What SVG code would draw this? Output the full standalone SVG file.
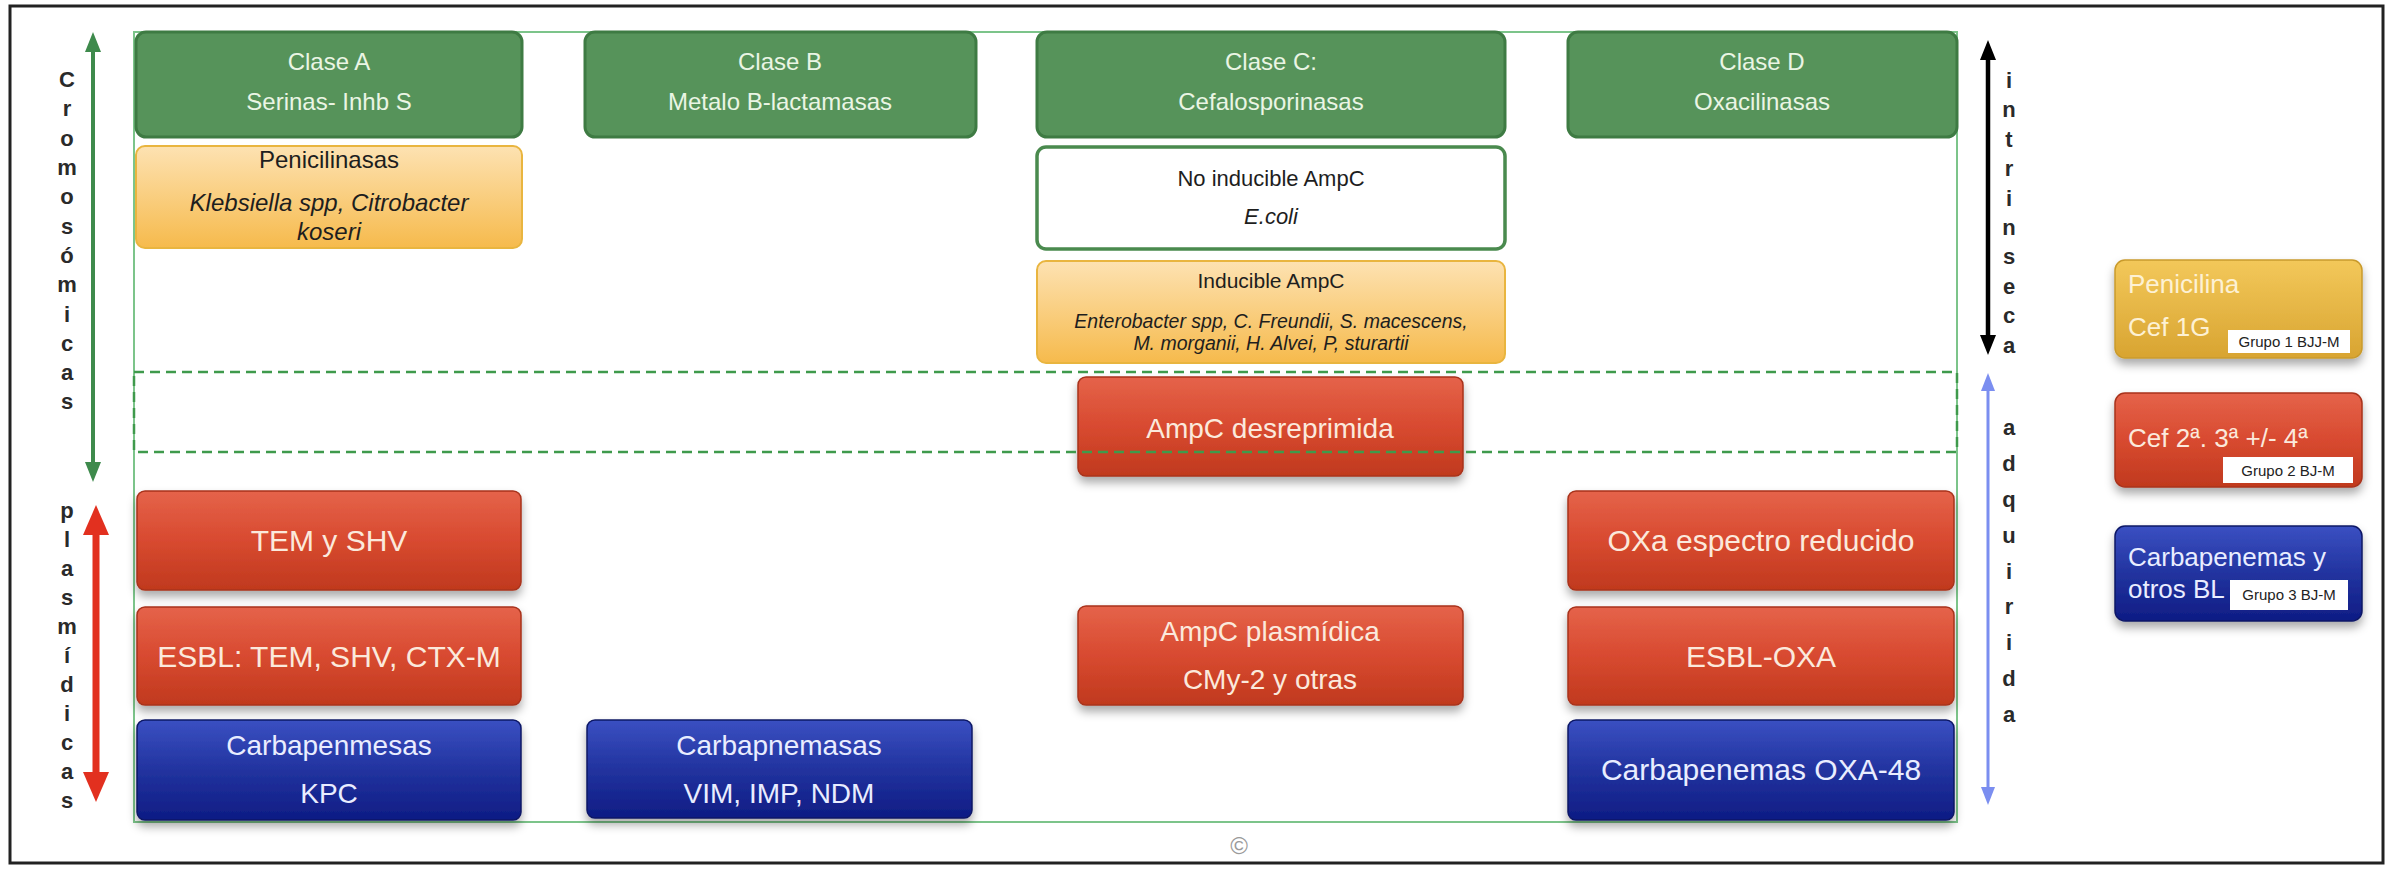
<svg xmlns="http://www.w3.org/2000/svg" width="2392" height="871" viewBox="0 0 2392 871">
<style>
text{font-family:"Liberation Sans",Arial,sans-serif;text-anchor:middle}
.gbox{fill:#56935a;stroke:#3e7b43;stroke-width:3}
.gt{fill:#eaf5e4;font-size:24px}
.obox{fill:url(#gOrange);stroke:#e9b53f;stroke-width:2}
.wbox{fill:#ffffff;stroke:#4a8a4e;stroke-width:3.5}
.dk{fill:#1e1e1e}
.it{font-style:italic}
.rbox{fill:url(#gRed);stroke:#a8331b;stroke-width:1.5;filter:url(#sh)}
.bbox{fill:url(#gBlue);stroke:#0c1766;stroke-width:1.5;filter:url(#sh)}
.ybox{fill:url(#gGold);stroke:#c99a2c;stroke-width:1.5;filter:url(#sh)}
.rt{fill:#fbe9dc;font-size:28px}
.bt{fill:#e9edff;font-size:28px}
.big{font-size:30px}
.lt{font-size:26px;text-anchor:start}
.tag{fill:#ffffff}
.tagt{fill:#222;font-size:15px;font-family:"Liberation Sans",Arial,sans-serif}
.vl{font-size:22px;font-weight:bold;fill:#2a2a2a}
</style>
<defs>
<linearGradient id="gRed" x1="0" y1="0" x2="0" y2="1"><stop offset="0" stop-color="#e5634a"/><stop offset="0.5" stop-color="#d84a30"/><stop offset="1" stop-color="#c0391e"/></linearGradient>
<linearGradient id="gBlue" x1="0" y1="0" x2="0" y2="1"><stop offset="0" stop-color="#3a50c2"/><stop offset="0.5" stop-color="#22339f"/><stop offset="1" stop-color="#0e1c84"/></linearGradient>
<linearGradient id="gOrange" x1="0" y1="0" x2="0" y2="1"><stop offset="0" stop-color="#fde2b2"/><stop offset="1" stop-color="#f6ba4c"/></linearGradient>
<linearGradient id="gGold" x1="0" y1="0" x2="0" y2="1"><stop offset="0" stop-color="#f3c85a"/><stop offset="1" stop-color="#d8a431"/></linearGradient>
<filter id="sh" x="-10%" y="-20%" width="120%" height="150%"><feDropShadow dx="0" dy="6" stdDeviation="5" flood-color="#000" flood-opacity="0.33"/></filter>
<marker id="ahG" markerUnits="userSpaceOnUse" viewBox="0 0 20 16" markerWidth="20" markerHeight="16" refX="9" refY="8" orient="auto-start-reverse"><path d="M0,0 L20,8 L0,16 z" fill="#3e8a4c"/></marker>
<marker id="ahR" markerUnits="userSpaceOnUse" viewBox="0 0 30 26" markerWidth="30" markerHeight="26" refX="12" refY="13" orient="auto-start-reverse"><path d="M0,0 L30,13 L0,26 z" fill="#e2301f"/></marker>
<marker id="ahK" markerUnits="userSpaceOnUse" viewBox="0 0 20 16" markerWidth="20" markerHeight="16" refX="9" refY="8" orient="auto-start-reverse"><path d="M0,0 L20,8 L0,16 z" fill="#000"/></marker>
<marker id="ahB" markerUnits="userSpaceOnUse" viewBox="0 0 18 14" markerWidth="18" markerHeight="14" refX="8" refY="7" orient="auto-start-reverse"><path d="M0,0 L18,7 L0,14 z" fill="#7b8ef0"/></marker>
</defs>

<rect x="10" y="6" width="2373" height="857" fill="#ffffff" stroke="#222" stroke-width="3"/>

<g id="frame">
<rect x="134" y="32" width="1823" height="790" fill="none" stroke="#7cc48a" stroke-width="2"/>
</g>

<g id="clase-a"><rect class="gbox" x="136" y="32" width="386" height="105" rx="10"/>
<text class="gt" x="329" y="70">Clase A</text><text class="gt" x="329" y="110">Serinas- Inhb S</text></g>
<g id="clase-b"><rect class="gbox" x="585" y="32" width="391" height="105" rx="10"/>
<text class="gt" x="780" y="70">Clase B</text><text class="gt" x="780" y="110">Metalo B-lactamasas</text></g>
<g id="clase-c"><rect class="gbox" x="1037" y="32" width="468" height="105" rx="10"/>
<text class="gt" x="1271" y="70">Clase C:</text><text class="gt" x="1271" y="110">Cefalosporinasas</text></g>
<g id="clase-d"><rect class="gbox" x="1568" y="32" width="389" height="105" rx="10"/>
<text class="gt" x="1762" y="70">Clase D</text><text class="gt" x="1762" y="110">Oxacilinasas</text></g>

<g id="penicilinasas"><rect class="obox" x="136" y="146" width="386" height="102" rx="9"/>
<text class="dk" x="329" y="168" font-size="24">Penicilinasas</text>
<text class="dk it" x="329" y="211" font-size="24">Klebsiella spp, Citrobacter</text>
<text class="dk it" x="329" y="240" font-size="24">koseri</text></g>

<g id="no-inducible"><rect class="wbox" x="1037" y="147" width="468" height="102" rx="9"/>
<text class="dk" x="1271" y="186" font-size="22">No inducible AmpC</text>
<text class="dk it" x="1271" y="224" font-size="22">E.coli</text></g>

<g id="inducible"><rect class="obox" x="1037" y="261" width="468" height="102" rx="9"/>
<text class="dk" x="1271" y="288" font-size="21">Inducible AmpC</text>
<text class="dk it" x="1271" y="328" font-size="19.5">Enterobacter spp, C. Freundii, S. macescens,</text>
<text class="dk it" x="1271" y="350" font-size="19.5">M. morganii, H. Alvei, P, sturartii</text></g>

<g id="ampc-desreprimida"><rect class="rbox" x="1078" y="377" width="385" height="99" rx="8"/>
<text class="rt" x="1270" y="438" font-size="33">AmpC desreprimida</text></g>

<g id="dashed-band">
<rect x="134" y="372" width="1823" height="80" fill="none" stroke="#3f9a4c" stroke-width="2.5" stroke-dasharray="10 6"/>
</g>

<g id="tem-shv"><rect class="rbox" x="137" y="491" width="384" height="99" rx="8"/>
<text class="rt big" x="329" y="551">TEM y SHV</text></g>
<g id="esbl"><rect class="rbox" x="137" y="607" width="384" height="98" rx="8"/>
<text class="rt big" x="329" y="667">ESBL: TEM, SHV, CTX-M</text></g>
<g id="kpc"><rect class="bbox" x="137" y="720" width="384" height="100" rx="8"/>
<text class="bt" x="329" y="755">Carbapenmesas</text><text class="bt" x="329" y="803">KPC</text></g>

<g id="vim"><rect class="bbox" x="587" y="720" width="385" height="98" rx="8"/>
<text class="bt" x="779" y="755">Carbapnemasas</text><text class="bt" x="779" y="803">VIM, IMP, NDM</text></g>

<g id="ampc-plasmidica"><rect class="rbox" x="1078" y="606" width="385" height="99" rx="8"/>
<text class="rt" x="1270" y="641">AmpC plasmídica</text><text class="rt" x="1270" y="689">CMy-2 y otras</text></g>

<g id="oxa-reducido"><rect class="rbox" x="1568" y="491" width="386" height="99" rx="8"/>
<text class="rt big" x="1761" y="551">OXa espectro reducido</text></g>
<g id="esbl-oxa"><rect class="rbox" x="1568" y="607" width="386" height="98" rx="8"/>
<text class="rt big" x="1761" y="667">ESBL-OXA</text></g>
<g id="oxa-48"><rect class="bbox" x="1568" y="720" width="386" height="100" rx="8"/>
<text class="bt big" x="1761" y="780">Carbapenemas OXA-48</text></g>

<g id="connectors">
<line x1="93" y1="43" x2="93" y2="471" stroke="#3e8a4c" stroke-width="4" marker-start="url(#ahG)" marker-end="url(#ahG)"/>
<line x1="96" y1="523" x2="96" y2="784" stroke="#e2301f" stroke-width="7" marker-start="url(#ahR)" marker-end="url(#ahR)"/>
<line x1="1988" y1="51" x2="1988" y2="344" stroke="#000" stroke-width="4.5" marker-start="url(#ahK)" marker-end="url(#ahK)"/>
<line x1="1988" y1="383" x2="1988" y2="795" stroke="#7b8ef0" stroke-width="3" marker-start="url(#ahB)" marker-end="url(#ahB)"/>
</g>

<g id="label-cromosomicas"><text class="vl">
<tspan x="67" y="87">C</tspan><tspan x="67" y="116">r</tspan><tspan x="67" y="146">o</tspan><tspan x="67" y="175">m</tspan><tspan x="67" y="204">o</tspan><tspan x="67" y="234">s</tspan><tspan x="67" y="263">ó</tspan><tspan x="67" y="292">m</tspan><tspan x="67" y="322">i</tspan><tspan x="67" y="351">c</tspan><tspan x="67" y="380">a</tspan><tspan x="67" y="409">s</tspan>
</text></g>
<g id="label-plasmidicas"><text class="vl">
<tspan x="67" y="518">p</tspan><tspan x="67" y="547">l</tspan><tspan x="67" y="576">a</tspan><tspan x="67" y="605">s</tspan><tspan x="67" y="634">m</tspan><tspan x="67" y="663">í</tspan><tspan x="67" y="692">d</tspan><tspan x="67" y="721">i</tspan><tspan x="67" y="750">c</tspan><tspan x="67" y="779">a</tspan><tspan x="67" y="808">s</tspan>
</text></g>
<g id="label-intrinseca"><text class="vl">
<tspan x="2009" y="88">i</tspan><tspan x="2009" y="117">n</tspan><tspan x="2009" y="147">t</tspan><tspan x="2009" y="176">r</tspan><tspan x="2009" y="206">i</tspan><tspan x="2009" y="235">n</tspan><tspan x="2009" y="264">s</tspan><tspan x="2009" y="294">e</tspan><tspan x="2009" y="323">c</tspan><tspan x="2009" y="353">a</tspan>
</text></g>
<g id="label-adquirida"><text class="vl">
<tspan x="2009" y="435">a</tspan><tspan x="2009" y="471">d</tspan><tspan x="2009" y="507">q</tspan><tspan x="2009" y="543">u</tspan><tspan x="2009" y="579">i</tspan><tspan x="2009" y="614">r</tspan><tspan x="2009" y="650">i</tspan><tspan x="2009" y="686">d</tspan><tspan x="2009" y="722">a</tspan>
</text></g>

<g id="legend-grupo1"><rect class="ybox" x="2115" y="260" width="247" height="98" rx="10"/>
<text class="lt" x="2128" y="293" fill="#fdf1d4">Penicilina</text>
<text class="lt" x="2128" y="336" fill="#fdf1d4">Cef 1G</text>
<rect class="tag" x="2228" y="330" width="122" height="23"/>
<text class="tagt" x="2289" y="347">Grupo 1 BJJ-M</text></g>

<g id="legend-grupo2"><rect class="rbox" x="2115" y="393" width="247" height="94" rx="10"/>
<text class="lt" x="2128" y="447" fill="#fbe9dc">Cef 2ª. 3ª +/- 4ª</text>
<rect class="tag" x="2223" y="457" width="130" height="26"/>
<text class="tagt" x="2288" y="476">Grupo 2 BJ-M</text></g>

<g id="legend-grupo3"><rect class="bbox" x="2115" y="526" width="247" height="95" rx="10"/>
<text class="lt" x="2128" y="566" fill="#e9edff">Carbapenemas y</text>
<text class="lt" x="2128" y="598" fill="#e9edff">otros BL</text>
<rect class="tag" x="2230" y="580" width="118" height="30"/>
<text class="tagt" x="2289" y="600">Grupo 3 BJ-M</text></g>

<g id="copyright"><text x="1239" y="854" font-size="24" fill="#9a9a9a">©</text></g>
</svg>
